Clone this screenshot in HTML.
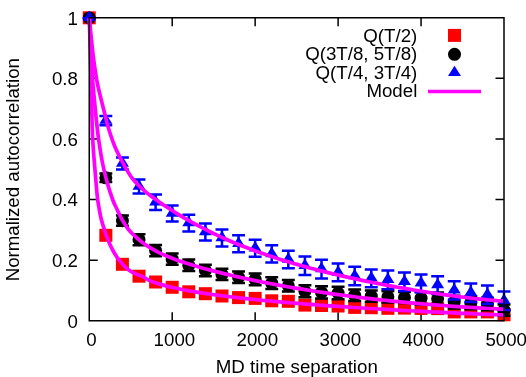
<!DOCTYPE html><html><head><meta charset="utf-8"><style>html,body{margin:0;padding:0;background:#fff;}svg{display:block;will-change:transform;}text{font-family:"Liberation Sans",sans-serif;font-size:18.7px;fill:#000;}</style></head><body>
<svg width="526" height="377" viewBox="0 0 526 377">
<rect width="526" height="377" fill="#fff"/>
<path d="M172.20,320.75 V312.25 M172.20,17.75 V26.25 M255.15,320.75 V312.25 M255.15,17.75 V26.25 M338.10,320.75 V312.25 M338.10,17.75 V26.25 M421.05,320.75 V312.25 M421.05,17.75 V26.25 M89.25,260.15 H97.75 M504.00,260.15 H495.50 M89.25,199.55 H97.75 M504.00,199.55 H495.50 M89.25,138.95 H97.75 M504.00,138.95 H495.50 M89.25,78.35 H97.75 M504.00,78.35 H495.50" stroke="#000" stroke-width="1.5" fill="none"/>
<rect x="82.75" y="11.30" width="13.00" height="13.00" fill="#f00"/>
<rect x="99.34" y="228.80" width="13.00" height="13.00" fill="#f00"/>
<rect x="115.93" y="257.80" width="13.00" height="13.00" fill="#f00"/>
<rect x="132.52" y="269.70" width="13.00" height="13.00" fill="#f00"/>
<rect x="149.11" y="275.50" width="13.00" height="13.00" fill="#f00"/>
<rect x="165.70" y="280.80" width="13.00" height="13.00" fill="#f00"/>
<rect x="182.29" y="285.30" width="13.00" height="13.00" fill="#f00"/>
<rect x="198.88" y="287.20" width="13.00" height="13.00" fill="#f00"/>
<rect x="215.47" y="289.50" width="13.00" height="13.00" fill="#f00"/>
<rect x="232.06" y="291.10" width="13.00" height="13.00" fill="#f00"/>
<rect x="248.65" y="291.90" width="13.00" height="13.00" fill="#f00"/>
<rect x="265.24" y="294.30" width="13.00" height="13.00" fill="#f00"/>
<rect x="281.83" y="294.80" width="13.00" height="13.00" fill="#f00"/>
<rect x="298.42" y="298.60" width="13.00" height="13.00" fill="#f00"/>
<rect x="315.01" y="299.00" width="13.00" height="13.00" fill="#f00"/>
<rect x="331.60" y="299.50" width="13.00" height="13.00" fill="#f00"/>
<rect x="348.19" y="300.90" width="13.00" height="13.00" fill="#f00"/>
<rect x="364.78" y="301.20" width="13.00" height="13.00" fill="#f00"/>
<rect x="381.37" y="301.80" width="13.00" height="13.00" fill="#f00"/>
<rect x="397.96" y="301.60" width="13.00" height="13.00" fill="#f00"/>
<rect x="414.55" y="301.90" width="13.00" height="13.00" fill="#f00"/>
<rect x="431.14" y="302.10" width="13.00" height="13.00" fill="#f00"/>
<rect x="447.73" y="305.40" width="13.00" height="13.00" fill="#f00"/>
<rect x="464.32" y="305.40" width="13.00" height="13.00" fill="#f00"/>
<rect x="480.91" y="305.40" width="13.00" height="13.00" fill="#f00"/>
<rect x="497.50" y="308.30" width="13.00" height="13.00" fill="#f00"/>
<path d="M89.25,17.90 V17.90 M82.80,17.90 H95.70 M82.80,17.90 H95.70" stroke="#000" stroke-width="2.5" fill="none"/>
<circle cx="89.25" cy="17.90" r="6.5" fill="#000"/>
<path d="M105.84,173.60 V182.10 M99.39,173.60 H112.29 M99.39,182.10 H112.29" stroke="#000" stroke-width="2.5" fill="none"/>
<circle cx="105.84" cy="177.85" r="6.5" fill="#000"/>
<path d="M122.43,215.50 V225.80 M115.98,215.50 H128.88 M115.98,225.80 H128.88" stroke="#000" stroke-width="2.5" fill="none"/>
<circle cx="122.43" cy="220.65" r="6.5" fill="#000"/>
<path d="M139.02,234.20 V245.20 M132.57,234.20 H145.47 M132.57,245.20 H145.47" stroke="#000" stroke-width="2.5" fill="none"/>
<circle cx="139.02" cy="239.70" r="6.5" fill="#000"/>
<path d="M155.61,244.90 V256.20 M149.16,244.90 H162.06 M149.16,256.20 H162.06" stroke="#000" stroke-width="2.5" fill="none"/>
<circle cx="155.61" cy="250.55" r="6.5" fill="#000"/>
<path d="M172.20,253.50 V264.80 M165.75,253.50 H178.65 M165.75,264.80 H178.65" stroke="#000" stroke-width="2.5" fill="none"/>
<circle cx="172.20" cy="259.15" r="6.5" fill="#000"/>
<path d="M188.79,259.60 V271.10 M182.34,259.60 H195.24 M182.34,271.10 H195.24" stroke="#000" stroke-width="2.5" fill="none"/>
<circle cx="188.79" cy="265.35" r="6.5" fill="#000"/>
<path d="M205.38,264.70 V276.20 M198.93,264.70 H211.83 M198.93,276.20 H211.83" stroke="#000" stroke-width="2.5" fill="none"/>
<circle cx="205.38" cy="270.45" r="6.5" fill="#000"/>
<path d="M221.97,268.70 V280.10 M215.52,268.70 H228.42 M215.52,280.10 H228.42" stroke="#000" stroke-width="2.5" fill="none"/>
<circle cx="221.97" cy="274.40" r="6.5" fill="#000"/>
<path d="M238.56,271.60 V282.90 M232.11,271.60 H245.01 M232.11,282.90 H245.01" stroke="#000" stroke-width="2.5" fill="none"/>
<circle cx="238.56" cy="277.25" r="6.5" fill="#000"/>
<path d="M255.15,273.50 V285.20 M248.70,273.50 H261.60 M248.70,285.20 H261.60" stroke="#000" stroke-width="2.5" fill="none"/>
<circle cx="255.15" cy="279.35" r="6.5" fill="#000"/>
<path d="M271.74,277.20 V289.10 M265.29,277.20 H278.19 M265.29,289.10 H278.19" stroke="#000" stroke-width="2.5" fill="none"/>
<circle cx="271.74" cy="283.15" r="6.5" fill="#000"/>
<path d="M288.33,280.10 V291.40 M281.88,280.10 H294.78 M281.88,291.40 H294.78" stroke="#000" stroke-width="2.5" fill="none"/>
<circle cx="288.33" cy="285.75" r="6.5" fill="#000"/>
<path d="M304.92,285.20 V297.30 M298.47,285.20 H311.37 M298.47,297.30 H311.37" stroke="#000" stroke-width="2.5" fill="none"/>
<circle cx="304.92" cy="291.25" r="6.5" fill="#000"/>
<path d="M321.51,286.20 V298.60 M315.06,286.20 H327.96 M315.06,298.60 H327.96" stroke="#000" stroke-width="2.5" fill="none"/>
<circle cx="321.51" cy="292.40" r="6.5" fill="#000"/>
<path d="M338.10,286.70 V299.30 M331.65,286.70 H344.55 M331.65,299.30 H344.55" stroke="#000" stroke-width="2.5" fill="none"/>
<circle cx="338.10" cy="293.00" r="6.5" fill="#000"/>
<path d="M354.69,289.50 V301.10 M348.24,289.50 H361.14 M348.24,301.10 H361.14" stroke="#000" stroke-width="2.5" fill="none"/>
<circle cx="354.69" cy="295.30" r="6.5" fill="#000"/>
<path d="M371.28,290.60 V301.80 M364.83,290.60 H377.73 M364.83,301.80 H377.73" stroke="#000" stroke-width="2.5" fill="none"/>
<circle cx="371.28" cy="296.20" r="6.5" fill="#000"/>
<path d="M387.87,291.10 V302.40 M381.42,291.10 H394.32 M381.42,302.40 H394.32" stroke="#000" stroke-width="2.5" fill="none"/>
<circle cx="387.87" cy="296.75" r="6.5" fill="#000"/>
<path d="M404.46,291.90 V303.10 M398.01,291.90 H410.91 M398.01,303.10 H410.91" stroke="#000" stroke-width="2.5" fill="none"/>
<circle cx="404.46" cy="297.50" r="6.5" fill="#000"/>
<path d="M421.05,291.90 V304.50 M414.60,291.90 H427.50 M414.60,304.50 H427.50" stroke="#000" stroke-width="2.5" fill="none"/>
<circle cx="421.05" cy="298.20" r="6.5" fill="#000"/>
<path d="M437.64,292.50 V305.10 M431.19,292.50 H444.09 M431.19,305.10 H444.09" stroke="#000" stroke-width="2.5" fill="none"/>
<circle cx="437.64" cy="298.80" r="6.5" fill="#000"/>
<path d="M454.23,295.80 V308.40 M447.78,295.80 H460.68 M447.78,308.40 H460.68" stroke="#000" stroke-width="2.5" fill="none"/>
<circle cx="454.23" cy="302.10" r="6.5" fill="#000"/>
<path d="M470.82,296.60 V309.20 M464.37,296.60 H477.27 M464.37,309.20 H477.27" stroke="#000" stroke-width="2.5" fill="none"/>
<circle cx="470.82" cy="302.90" r="6.5" fill="#000"/>
<path d="M487.41,297.70 V310.30 M480.96,297.70 H493.86 M480.96,310.30 H493.86" stroke="#000" stroke-width="2.5" fill="none"/>
<circle cx="487.41" cy="304.00" r="6.5" fill="#000"/>
<path d="M504.00,304.60 V315.80 M497.55,304.60 H510.45 M497.55,315.80 H510.45" stroke="#000" stroke-width="2.5" fill="none"/>
<circle cx="504.00" cy="310.20" r="6.5" fill="#000"/>
<path d="M89.25,17.90 V17.90 M82.80,17.90 H95.70 M82.80,17.90 H95.70" stroke="#00f" stroke-width="2.5" fill="none"/>
<path d="M89.25,10.65 L82.75,21.10 L95.75,21.10 Z" fill="#00f"/>
<path d="M105.84,116.10 V125.20 M99.39,116.10 H112.29 M99.39,125.20 H112.29" stroke="#00f" stroke-width="2.5" fill="none"/>
<path d="M105.84,113.40 L99.34,123.85 L112.34,123.85 Z" fill="#00f"/>
<path d="M122.43,157.40 V169.50 M115.98,157.40 H128.88 M115.98,169.50 H128.88" stroke="#00f" stroke-width="2.5" fill="none"/>
<path d="M122.43,156.20 L115.93,166.65 L128.93,166.65 Z" fill="#00f"/>
<path d="M139.02,179.60 V193.60 M132.57,179.60 H145.47 M132.57,193.60 H145.47" stroke="#00f" stroke-width="2.5" fill="none"/>
<path d="M139.02,179.35 L132.52,189.80 L145.52,189.80 Z" fill="#00f"/>
<path d="M155.61,194.50 V210.00 M149.16,194.50 H162.06 M149.16,210.00 H162.06" stroke="#00f" stroke-width="2.5" fill="none"/>
<path d="M155.61,195.00 L149.11,205.45 L162.11,205.45 Z" fill="#00f"/>
<path d="M172.20,205.50 V221.50 M165.75,205.50 H178.65 M165.75,221.50 H178.65" stroke="#00f" stroke-width="2.5" fill="none"/>
<path d="M172.20,206.25 L165.70,216.70 L178.70,216.70 Z" fill="#00f"/>
<path d="M188.79,214.80 V231.40 M182.34,214.80 H195.24 M182.34,231.40 H195.24" stroke="#00f" stroke-width="2.5" fill="none"/>
<path d="M188.79,215.85 L182.29,226.30 L195.29,226.30 Z" fill="#00f"/>
<path d="M205.38,223.60 V240.50 M198.93,223.60 H211.83 M198.93,240.50 H211.83" stroke="#00f" stroke-width="2.5" fill="none"/>
<path d="M205.38,224.80 L198.88,235.25 L211.88,235.25 Z" fill="#00f"/>
<path d="M221.97,229.50 V246.50 M215.52,229.50 H228.42 M215.52,246.50 H228.42" stroke="#00f" stroke-width="2.5" fill="none"/>
<path d="M221.97,230.75 L215.47,241.20 L228.47,241.20 Z" fill="#00f"/>
<path d="M238.56,235.20 V252.20 M232.11,235.20 H245.01 M232.11,252.20 H245.01" stroke="#00f" stroke-width="2.5" fill="none"/>
<path d="M238.56,236.45 L232.06,246.90 L245.06,246.90 Z" fill="#00f"/>
<path d="M255.15,239.80 V256.80 M248.70,239.80 H261.60 M248.70,256.80 H261.60" stroke="#00f" stroke-width="2.5" fill="none"/>
<path d="M255.15,241.05 L248.65,251.50 L261.65,251.50 Z" fill="#00f"/>
<path d="M271.74,245.30 V262.60 M265.29,245.30 H278.19 M265.29,262.60 H278.19" stroke="#00f" stroke-width="2.5" fill="none"/>
<path d="M271.74,246.70 L265.24,257.15 L278.24,257.15 Z" fill="#00f"/>
<path d="M288.33,250.70 V268.30 M281.88,250.70 H294.78 M281.88,268.30 H294.78" stroke="#00f" stroke-width="2.5" fill="none"/>
<path d="M288.33,252.25 L281.83,262.70 L294.83,262.70 Z" fill="#00f"/>
<path d="M304.92,256.50 V275.00 M298.47,256.50 H311.37 M298.47,275.00 H311.37" stroke="#00f" stroke-width="2.5" fill="none"/>
<path d="M304.92,258.50 L298.42,268.95 L311.42,268.95 Z" fill="#00f"/>
<path d="M321.51,259.80 V278.40 M315.06,259.80 H327.96 M315.06,278.40 H327.96" stroke="#00f" stroke-width="2.5" fill="none"/>
<path d="M321.51,261.85 L315.01,272.30 L328.01,272.30 Z" fill="#00f"/>
<path d="M338.10,263.60 V281.30 M331.65,263.60 H344.55 M331.65,281.30 H344.55" stroke="#00f" stroke-width="2.5" fill="none"/>
<path d="M338.10,265.20 L331.60,275.65 L344.60,275.65 Z" fill="#00f"/>
<path d="M354.69,266.80 V285.20 M348.24,266.80 H361.14 M348.24,285.20 H361.14" stroke="#00f" stroke-width="2.5" fill="none"/>
<path d="M354.69,268.75 L348.19,279.20 L361.19,279.20 Z" fill="#00f"/>
<path d="M371.28,269.40 V287.20 M364.83,269.40 H377.73 M364.83,287.20 H377.73" stroke="#00f" stroke-width="2.5" fill="none"/>
<path d="M371.28,271.05 L364.78,281.50 L377.78,281.50 Z" fill="#00f"/>
<path d="M387.87,270.50 V289.20 M381.42,270.50 H394.32 M381.42,289.20 H394.32" stroke="#00f" stroke-width="2.5" fill="none"/>
<path d="M387.87,272.60 L381.37,283.05 L394.37,283.05 Z" fill="#00f"/>
<path d="M404.46,272.50 V291.00 M398.01,272.50 H410.91 M398.01,291.00 H410.91" stroke="#00f" stroke-width="2.5" fill="none"/>
<path d="M404.46,274.50 L397.96,284.95 L410.96,284.95 Z" fill="#00f"/>
<path d="M421.05,274.40 V292.30 M414.60,274.40 H427.50 M414.60,292.30 H427.50" stroke="#00f" stroke-width="2.5" fill="none"/>
<path d="M421.05,276.10 L414.55,286.55 L427.55,286.55 Z" fill="#00f"/>
<path d="M437.64,276.30 V294.00 M431.19,276.30 H444.09 M431.19,294.00 H444.09" stroke="#00f" stroke-width="2.5" fill="none"/>
<path d="M437.64,277.90 L431.14,288.35 L444.14,288.35 Z" fill="#00f"/>
<path d="M454.23,281.20 V299.50 M447.78,281.20 H460.68 M447.78,299.50 H460.68" stroke="#00f" stroke-width="2.5" fill="none"/>
<path d="M454.23,283.10 L447.73,293.55 L460.73,293.55 Z" fill="#00f"/>
<path d="M470.82,283.60 V302.00 M464.37,283.60 H477.27 M464.37,302.00 H477.27" stroke="#00f" stroke-width="2.5" fill="none"/>
<path d="M470.82,285.55 L464.32,296.00 L477.32,296.00 Z" fill="#00f"/>
<path d="M487.41,285.40 V304.00 M480.96,285.40 H493.86 M480.96,304.00 H493.86" stroke="#00f" stroke-width="2.5" fill="none"/>
<path d="M487.41,287.45 L480.91,297.90 L493.91,297.90 Z" fill="#00f"/>
<path d="M504.00,291.50 V309.90 M497.55,291.50 H510.45 M497.55,309.90 H510.45" stroke="#00f" stroke-width="2.5" fill="none"/>
<path d="M504.00,293.45 L497.50,303.90 L510.50,303.90 Z" fill="#00f"/>
<path d="M89.30,18.00 C89.48,24.33 90.05,43.67 90.40,56.00 C90.75,68.33 91.10,80.00 91.40,92.00 C91.70,104.00 91.92,119.00 92.20,128.00 C92.48,137.00 92.72,140.00 93.10,146.00 C93.48,152.00 93.81,155.67 94.50,164.00 C95.19,172.33 96.50,188.72 97.25,196.00 C98.00,203.28 98.33,203.82 99.00,207.70 C99.67,211.58 100.33,215.42 101.30,219.30 C102.27,223.18 103.68,227.55 104.80,231.00 C105.92,234.45 106.73,236.92 108.00,240.00 C109.27,243.08 110.68,246.32 112.40,249.50 C114.12,252.68 115.88,255.92 118.30,259.10 C120.72,262.28 124.20,266.22 126.90,268.60 C129.60,270.98 131.95,272.12 134.50,273.40 C137.05,274.68 139.62,275.05 142.20,276.30 C144.78,277.55 147.37,279.67 150.00,280.89 C152.63,282.11 155.33,282.78 158.00,283.62 C160.67,284.45 163.33,285.18 166.00,285.88 C168.67,286.58 171.33,287.21 174.00,287.82 C176.67,288.42 179.33,288.97 182.00,289.51 C184.67,290.04 187.33,290.53 190.00,291.01 C192.67,291.48 195.33,291.93 198.00,292.36 C200.67,292.79 203.33,293.20 206.00,293.59 C208.67,293.99 211.33,294.36 214.00,294.73 C216.67,295.09 219.33,295.44 222.00,295.78 C224.67,296.13 227.33,296.45 230.00,296.77 C232.67,297.09 235.33,297.40 238.00,297.71 C240.67,298.01 243.33,298.30 246.00,298.59 C248.67,298.87 251.33,299.15 254.00,299.42 C256.67,299.70 259.33,299.96 262.00,300.22 C264.67,300.48 267.33,300.74 270.00,300.98 C272.67,301.23 275.33,301.48 278.00,301.72 C280.67,301.95 283.33,302.19 286.00,302.42 C288.67,302.65 291.33,302.87 294.00,303.09 C296.67,303.32 299.33,303.53 302.00,303.75 C304.67,303.96 307.33,304.17 310.00,304.37 C312.67,304.58 315.33,304.78 318.00,304.98 C320.67,305.18 323.33,305.38 326.00,305.57 C328.67,305.76 331.33,305.95 334.00,306.14 C336.67,306.33 339.33,306.51 342.00,306.69 C344.67,306.87 347.33,307.05 350.00,307.23 C352.67,307.40 355.33,307.57 358.00,307.74 C360.67,307.92 363.33,308.08 366.00,308.25 C368.67,308.41 371.33,308.58 374.00,308.74 C376.67,308.90 379.33,309.06 382.00,309.21 C384.67,309.37 387.33,309.52 390.00,309.67 C392.67,309.83 395.33,309.97 398.00,310.12 C400.67,310.27 403.33,310.41 406.00,310.56 C408.67,310.70 411.33,310.84 414.00,310.98 C416.67,311.12 419.33,311.26 422.00,311.39 C424.67,311.53 427.33,311.66 430.00,311.80 C432.67,311.93 435.33,312.06 438.00,312.19 C440.67,312.31 443.33,312.44 446.00,312.57 C448.67,312.69 451.33,312.81 454.00,312.94 C456.67,313.06 459.33,313.18 462.00,313.30 C464.67,313.41 467.33,313.53 470.00,313.65 C472.67,313.76 475.33,313.87 478.00,313.99 C480.67,314.10 483.33,314.21 486.00,314.32 C488.67,314.43 491.33,314.53 494.00,314.64 C496.67,314.75 500.52,314.90 502.00,314.95 C503.48,315.01 502.75,314.98 502.90,314.99" stroke="#f0f" stroke-width="3.7" fill="none" stroke-linecap="butt" stroke-linejoin="round"/>
<path d="M89.40,18.00 C89.70,24.33 90.68,45.90 91.20,56.00 C91.72,66.10 91.97,71.27 92.50,78.60 C93.03,85.93 93.62,91.77 94.40,100.00 C95.18,108.23 96.33,120.33 97.20,128.00 C98.07,135.67 98.68,140.00 99.60,146.00 C100.52,152.00 101.47,158.00 102.70,164.00 C103.93,170.00 105.32,176.00 107.00,182.00 C108.68,188.00 111.12,195.42 112.80,200.00 C114.48,204.58 115.60,206.32 117.10,209.50 C118.60,212.68 119.95,215.82 121.80,219.10 C123.65,222.38 126.33,226.67 128.20,229.20 C130.07,231.73 131.45,232.75 133.00,234.30 C134.55,235.85 136.00,237.18 137.50,238.50 C139.00,239.82 139.92,240.72 142.00,242.24 C144.08,243.77 147.33,246.03 150.00,247.66 C152.67,249.29 155.33,250.69 158.00,252.03 C160.67,253.37 163.33,254.56 166.00,255.71 C168.67,256.85 171.33,257.89 174.00,258.90 C176.67,259.91 179.33,260.85 182.00,261.76 C184.67,262.67 187.33,263.52 190.00,264.36 C192.67,265.19 195.33,265.99 198.00,266.76 C200.67,267.54 203.33,268.29 206.00,269.01 C208.67,269.74 211.33,270.45 214.00,271.14 C216.67,271.82 219.33,272.49 222.00,273.15 C224.67,273.80 227.33,274.44 230.00,275.07 C232.67,275.69 235.33,276.30 238.00,276.90 C240.67,277.50 243.33,278.08 246.00,278.66 C248.67,279.23 251.33,279.79 254.00,280.34 C256.67,280.89 259.33,281.43 262.00,281.96 C264.67,282.49 267.33,283.01 270.00,283.52 C272.67,284.03 275.33,284.53 278.00,285.02 C280.67,285.51 283.33,286.00 286.00,286.47 C288.67,286.94 291.33,287.40 294.00,287.86 C296.67,288.31 299.33,288.76 302.00,289.19 C304.67,289.63 307.33,290.06 310.00,290.48 C312.67,290.90 315.33,291.31 318.00,291.72 C320.67,292.12 323.33,292.52 326.00,292.91 C328.67,293.30 331.33,293.68 334.00,294.05 C336.67,294.43 339.33,294.79 342.00,295.15 C344.67,295.51 347.33,295.86 350.00,296.20 C352.67,296.55 355.33,296.89 358.00,297.22 C360.67,297.55 363.33,297.87 366.00,298.19 C368.67,298.50 371.33,298.81 374.00,299.11 C376.67,299.42 379.33,299.71 382.00,300.00 C384.67,300.29 387.33,300.57 390.00,300.85 C392.67,301.13 395.33,301.40 398.00,301.66 C400.67,301.92 403.33,302.18 406.00,302.43 C408.67,302.68 411.33,302.93 414.00,303.17 C416.67,303.41 419.33,303.64 422.00,303.87 C424.67,304.10 427.33,304.32 430.00,304.53 C432.67,304.75 435.33,304.96 438.00,305.16 C440.67,305.37 443.33,305.57 446.00,305.76 C448.67,305.95 451.33,306.14 454.00,306.32 C456.67,306.51 459.33,306.68 462.00,306.85 C464.67,307.03 467.33,307.19 470.00,307.35 C472.67,307.52 475.33,307.67 478.00,307.82 C480.67,307.98 483.33,308.12 486.00,308.26 C488.67,308.40 491.33,308.54 494.00,308.67 C496.67,308.80 500.52,308.98 502.00,309.05 C503.48,309.12 502.75,309.09 502.90,309.09" stroke="#f0f" stroke-width="3.7" fill="none" stroke-linecap="butt" stroke-linejoin="round"/>
<path d="M89.50,18.00 C89.57,19.00 89.28,17.67 89.90,24.00 C90.52,30.33 92.10,46.90 93.20,56.00 C94.30,65.10 95.48,72.60 96.50,78.60 C97.52,84.60 97.72,85.32 99.30,92.00 C100.88,98.68 104.48,112.70 106.00,118.70 C107.52,124.70 106.97,123.45 108.40,128.00 C109.83,132.55 112.48,140.75 114.60,146.00 C116.72,151.25 119.15,155.65 121.10,159.50 C123.05,163.35 124.40,165.92 126.30,169.10 C128.20,172.28 130.35,175.78 132.50,178.60 C134.65,181.42 136.95,183.73 139.20,186.00 C141.45,188.27 143.70,190.28 146.00,192.20 C148.30,194.12 150.50,195.67 153.00,197.49 C155.50,199.32 158.33,201.31 161.00,203.15 C163.67,204.98 166.33,206.76 169.00,208.50 C171.67,210.23 174.33,211.92 177.00,213.56 C179.67,215.20 182.33,216.79 185.00,218.35 C187.67,219.90 190.33,221.41 193.00,222.88 C195.67,224.35 198.33,225.78 201.00,227.17 C203.67,228.56 206.33,229.91 209.00,231.23 C211.67,232.55 214.33,233.83 217.00,235.08 C219.67,236.32 222.33,237.54 225.00,238.72 C227.67,239.91 230.33,241.06 233.00,242.18 C235.67,243.30 238.33,244.40 241.00,245.46 C243.67,246.53 246.33,247.57 249.00,248.58 C251.67,249.59 254.33,250.58 257.00,251.54 C259.67,252.51 262.33,253.45 265.00,254.36 C267.67,255.28 270.33,256.18 273.00,257.05 C275.67,257.93 278.33,258.78 281.00,259.61 C283.67,260.45 286.33,261.26 289.00,262.06 C291.67,262.86 294.33,263.64 297.00,264.40 C299.67,265.17 302.33,265.91 305.00,266.64 C307.67,267.38 310.33,268.09 313.00,268.79 C315.67,269.49 318.33,270.18 321.00,270.86 C323.67,271.53 326.33,272.19 329.00,272.84 C331.67,273.49 334.33,274.12 337.00,274.75 C339.67,275.37 342.33,275.98 345.00,276.58 C347.67,277.19 350.33,277.78 353.00,278.36 C355.67,278.94 358.33,279.51 361.00,280.07 C363.67,280.63 366.33,281.18 369.00,281.72 C371.67,282.26 374.33,282.80 377.00,283.32 C379.67,283.84 382.33,284.36 385.00,284.86 C387.67,285.37 390.33,285.87 393.00,286.35 C395.67,286.84 398.33,287.32 401.00,287.79 C403.67,288.27 406.33,288.73 409.00,289.18 C411.67,289.64 414.33,290.08 417.00,290.52 C419.67,290.96 422.33,291.39 425.00,291.81 C427.67,292.23 430.33,292.64 433.00,293.04 C435.67,293.44 438.33,293.84 441.00,294.22 C443.67,294.60 446.33,294.98 449.00,295.34 C451.67,295.71 454.33,296.06 457.00,296.40 C459.67,296.75 462.33,297.08 465.00,297.40 C467.67,297.72 470.33,298.04 473.00,298.33 C475.67,298.63 478.33,298.92 481.00,299.19 C483.67,299.47 486.33,299.73 489.00,299.97 C491.67,300.22 494.68,300.48 497.00,300.67 C499.32,300.86 501.92,301.05 502.90,301.13" stroke="#f0f" stroke-width="3.7" fill="none" stroke-linecap="butt" stroke-linejoin="round"/>
<rect x="448.00" y="28.90" width="13.00" height="13.00" fill="#f00"/>
<circle cx="454.50" cy="54.3" r="6.5" fill="#000"/>
<path d="M454.50,65.65 L448.00,76.10 L461.00,76.10 Z" fill="#00f"/>
<path d="M428,91.5 H481" stroke="#f0f" stroke-width="3.7"/>
<rect x="89.25" y="17.75" width="414.75" height="303.00" fill="none" stroke="#000" stroke-width="1.5"/>
<text x="91.45" y="346" text-anchor="middle">0</text>
<text x="174.40" y="346" text-anchor="middle">1000</text>
<text x="257.35" y="346" text-anchor="middle">2000</text>
<text x="340.30" y="346" text-anchor="middle">3000</text>
<text x="423.25" y="346" text-anchor="middle">4000</text>
<text x="506.20" y="346" text-anchor="middle">5000</text>
<text x="77.9" y="327.60" text-anchor="end">0</text>
<text x="77.9" y="267.00" text-anchor="end">0.2</text>
<text x="77.9" y="206.40" text-anchor="end">0.4</text>
<text x="77.9" y="145.80" text-anchor="end">0.6</text>
<text x="77.9" y="85.20" text-anchor="end">0.8</text>
<text x="77.9" y="24.60" text-anchor="end">1</text>
<text x="296.8" y="373.3" text-anchor="middle">MD time separation</text>
<text transform="translate(19.4,169.7) rotate(-90)" text-anchor="middle">Normalized autocorrelation</text>
<text x="417.3" y="41.90" text-anchor="end">Q(T/2)</text>
<text x="417.3" y="60.20" text-anchor="end">Q(3T/8, 5T/8)</text>
<text x="417.3" y="78.50" text-anchor="end">Q(T/4, 3T/4)</text>
<text x="417.3" y="96.80" text-anchor="end">Model</text>
</svg></body></html>
